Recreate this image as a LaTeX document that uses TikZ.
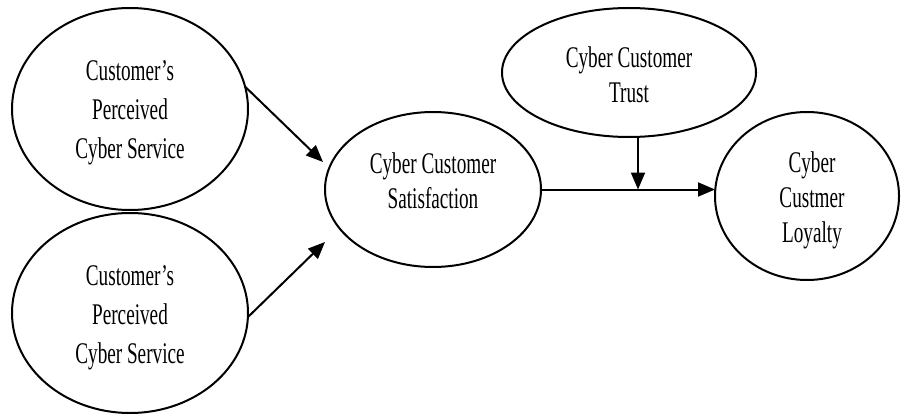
\documentclass[tikz,border=0pt]{standalone}
\usepackage{fontspec}
\setmainfont[FakeStretch=0.64]{Liberation Serif}
\usetikzlibrary{arrows.meta,shapes.geometric}

\begin{document}
\begin{tikzpicture}[x=1pt,y=-1pt,
  construct/.style={ellipse, draw, line width=2pt, inner sep=0pt, outer sep=0pt},
  caption/.style={align=center, inner sep=0pt, font=\fontsize{30}{35}\selectfont},
  widecaption/.style={caption, font=\fontsize{30}{39}\selectfont},
  link/.style={line width=2pt, -{Triangle[length=17pt,width=14pt]}}]
\useasboundingbox[fill=white] (0,0) rectangle (901,417);

% constructs of the model
\node[construct, minimum width=236pt, minimum height=202pt] (cps1) at (130,109) {};
\node[construct, minimum width=236pt, minimum height=200pt] (cps2) at (130,313) {};
\node[construct, minimum width=216pt, minimum height=155pt] (ccs) at (433,189.5) {};
\node[construct, minimum width=254pt, minimum height=129pt] (cct) at (629,72.5) {};
\node[construct, minimum width=184pt, minimum height=168pt] (ccl) at (807,196) {};

% their labels
\node[widecaption] (cps1txt) at (130,113) {Customer’s\\Perceived\\Cyber Service};
\node[widecaption] (cps2txt) at (130,318) {Customer’s\\Perceived\\Cyber Service};
\node[caption] (ccstxt) at (433,180.5) {Cyber Customer\\Satisfaction};
\node[caption] (ccttxt) at (629,74.5) {Cyber Customer\\Trust};
\node[caption] (ccltxt) at (812,200) {Cyber\\Custmer\\Loyalty};

% arrow end points and the moderation junction
\coordinate (tip1) at (323,162);
\coordinate (tip2) at (325,242);
\coordinate (junction) at (638,189.5);

% paths
\draw[link] (cps1.11.6) -- (tip1);
\draw[link] (cps2.-2.4) -- (tip2);
\draw[link] (ccs.east) -- (ccs.east -| ccl.west);
\draw[link] (cct.south -| junction) -- (junction);
\end{tikzpicture}
\end{document}
